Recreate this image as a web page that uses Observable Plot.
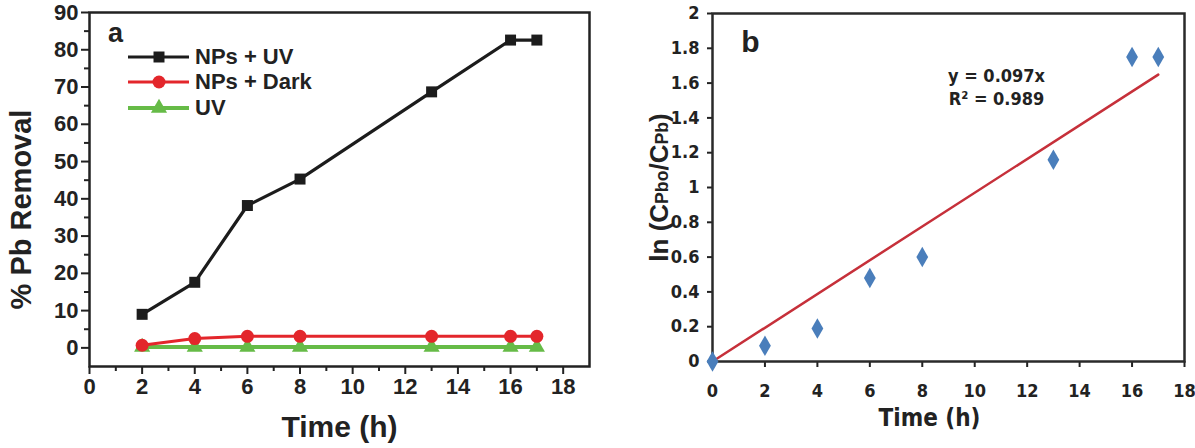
<!DOCTYPE html>
<html><head><meta charset="utf-8">
<script src="https://cdn.jsdelivr.net/npm/d3@7"></script>
<script src="https://cdn.jsdelivr.net/npm/@observablehq/plot@0.6"></script>
<style>
html,body{margin:0;padding:0;background:#fff;}
#wrap{display:flex;width:1195px;height:448px;overflow:hidden;}
.panel{position:relative;}
.legend{position:absolute;left:128px;top:44px;font-family:'Liberation Sans',Arial,sans-serif;font-weight:bold;font-size:22px;color:#222;}
.legend .row{display:flex;align-items:center;height:25.5px;}
.legend svg{display:block;margin-right:6px;}
</style></head><body>
<div id="wrap"><div id="pa" class="panel"></div><div id="pb" class="panel"></div></div>
<script>
// ---------- Panel a data ----------
const timeA = [2, 4, 6, 8, 13, 16, 17];
const npsUV = [9.0, 17.6, 38.2, 45.3, 68.7, 82.6, 82.6];
const npsDark = [0.7, 2.5, 3.1, 3.1, 3.1, 3.1, 3.1];
const uvOnly = [0.2, 0.2, 0.2, 0.2, 0.2, 0.2, 0.2];
const seriesNames = ["NPs + UV", "NPs + Dark", "UV"];
const seriesColors = ["#1c1c1c", "#e3262b", "#66bb47"];
const seriesSymbols = ["square", "circle", "triangle"];
const seriesR = [6.2, 6.5, 6.0];
const seriesWidth = [3.2, 3, 4];
const xTicksA = [0, 2, 4, 6, 8, 10, 12, 14, 16, 18];
const yTicksA = [0, 10, 20, 30, 40, 50, 60, 70, 80, 90];

// ---------- Panel b data ----------
const timeB = [0, 2, 4, 6, 8, 13, 16, 17];
const lnRatio = [0, 0.09, 0.19, 0.48, 0.60, 1.16, 1.75, 1.75];
const slope = 0.097;
const rSquared = 0.989;
const xTicksB = [0, 2, 4, 6, 8, 10, 12, 14, 16, 18];
const yTicksB = [0, 0.2, 0.4, 0.6, 0.8, 1, 1.2, 1.4, 1.6, 1.8, 2];

const fontA = "'Liberation Sans', Arial, sans-serif";
const fontB = "'Liberation Sans Narrow', 'DejaVu Sans Condensed', Lato, sans-serif";

// ---------- build tables ----------
const seriesValues = [npsUV, npsDark, uvOnly];
const rowsA = [];
seriesNames.forEach((s, i) => timeA.forEach((t, j) => rowsA.push({series: s, time: t, value: seriesValues[i][j]})));

const seriesMarks = [];
for (let i = seriesNames.length - 1; i >= 0; i--) {
  const data = rowsA.filter(d => d.series === seriesNames[i]);
  seriesMarks.push(Plot.line(data, {x: "time", y: "value", stroke: seriesColors[i], strokeWidth: seriesWidth[i]}));
  seriesMarks.push(Plot.dot(data, {x: "time", y: "value", symbol: seriesSymbols[i], r: seriesR[i], fill: seriesColors[i]}));
}

const plotA = Plot.plot({
  width: 600, height: 448,
  marginLeft: 89, marginRight: 11, marginTop: 12, marginBottom: 82,
  style: {fontFamily: fontA, fontWeight: "bold", color: "#222", background: "#fff", overflow: "visible"},
  x: {domain: [0, 19]},
  y: {domain: [-5, 90]},
  marks: [
    Plot.axisX({ticks: xTicksA, tickSize: 8, tickPadding: 4, fontSize: 22, fontWeight: "bold", label: null, strokeWidth: 2}),
    Plot.axisX({ticks: d3.range(1, 19, 2), tickSize: 5, text: null, label: null, strokeWidth: 2}),
    Plot.axisY({ticks: yTicksA, tickSize: 8, tickPadding: 3, fontSize: 22, fontWeight: "bold", label: null, strokeWidth: 2}),
    Plot.axisY({ticks: d3.range(5, 90, 10), tickSize: 5, text: null, label: null, strokeWidth: 2}),
    Plot.frame({stroke: "#222", strokeWidth: 2.5}),
    ...seriesMarks,
    Plot.text(["a"], {frameAnchor: "top-left", dx: 26, dy: 21, fontSize: 27, fontWeight: "bold", fill: "#222", lineAnchor: "middle", textAnchor: "middle"}),
    Plot.text(["Time (h)"], {frameAnchor: "bottom", dy: 70, lineAnchor: "bottom", fontSize: 30, fontWeight: "bold", fill: "#222"}),
    Plot.text(["% Pb Removal"], {frameAnchor: "left", dx: -68, dy: 20, rotate: -90, lineAnchor: "middle", textAnchor: "middle", fontSize: 29, fontWeight: "bold", fill: "#222"})
  ]
});
document.getElementById("pa").appendChild(plotA);

// legend for panel a
const legend = d3.select("#pa").append("div").attr("class", "legend");
seriesNames.forEach((s, i) => {
  const row = legend.append("div").attr("class", "row");
  const svg = row.append("svg").attr("width", 61).attr("height", 20);
  svg.append("line").attr("x1", 0).attr("x2", 61).attr("y1", 10).attr("y2", 10)
    .attr("stroke", seriesColors[i]).attr("stroke-width", seriesWidth[i]);
  const sym = {square: d3.symbolSquare, circle: d3.symbolCircle, triangle: d3.symbolTriangle}[seriesSymbols[i]];
  svg.append("path").attr("transform", "translate(31,10)")
    .attr("d", d3.symbol(sym, Math.PI * seriesR[i] * seriesR[i])())
    .attr("fill", seriesColors[i]);
  row.append("span").text(s);
});

// ---------- Panel b ----------
const rowsB = timeB.map((t, i) => ({time: t, value: lnRatio[i]}));
const fitRows = [d3.min(timeB), d3.max(timeB)].map(t => ({time: t, fit: slope * t}));
const yLabelB = "ln (CPbo/CPb)";

const plotB = Plot.plot({
  width: 595, height: 448,
  marginLeft: 112, marginRight: 11, marginTop: 13, marginBottom: 87,
  style: {fontFamily: fontB, fontWeight: "bold", color: "#222", background: "#fff", overflow: "visible"},
  x: {domain: [0, 18]},
  y: {domain: [0, 2]},
  marks: [
    Plot.axisX({ticks: xTicksB, tickSize: 6, tickPadding: 17, fontSize: 18, fontWeight: "bold", label: null, strokeWidth: 2, tickFormat: d => String(d)}),
    Plot.axisY({ticks: yTicksB, tickSize: 5, tickPadding: 8, fontSize: 18, fontWeight: "bold", label: null, strokeWidth: 2, tickFormat: d => String(+d.toFixed(1))}),
    Plot.frame({stroke: "#2a2a2a", strokeWidth: 2.5}),
    Plot.line(fitRows, {x: "time", y: "fit", stroke: "#c6303a", strokeWidth: 2.5}),
    Plot.dot(rowsB, {x: "time", y: "value", symbol: "diamond", r: 6.2, fill: "#4a7ebb"}),
    Plot.text([`y = ${slope}x`], {frameAnchor: "top-left", dx: 284, dy: 63, lineAnchor: "middle", textAnchor: "middle", fontSize: 18, fontWeight: "bold", fill: "#222", fontFamily: fontB}),
    Plot.text([`R² = ${rSquared}`], {frameAnchor: "top-left", dx: 284, dy: 86, lineAnchor: "middle", textAnchor: "middle", fontSize: 18, fontWeight: "bold", fill: "#222", fontFamily: fontB}),
    Plot.text(["b"], {frameAnchor: "top-left", dx: 38, dy: 29, lineAnchor: "middle", textAnchor: "middle", fontSize: 30, fontWeight: "bold", fill: "#222", fontFamily: fontA}),
    Plot.text(["Time (h)"], {frameAnchor: "bottom", dx: -19, dy: 64, lineAnchor: "bottom", fontSize: 24, fontWeight: "bold", fill: "#222", fontFamily: fontB}),
    Plot.text([yLabelB], {frameAnchor: "left", dx: -53, dy: 0, rotate: -90, lineAnchor: "middle", textAnchor: "middle", fontSize: 26, fontWeight: "bold", fill: "#222", fontFamily: fontA})
  ]
});
document.getElementById("pb").appendChild(plotB);

// subscript-style small letters in the y label of panel b
d3.select(plotB).selectAll("text").filter(function() { return this.textContent === yLabelB; })
  .each(function() {
    const t = d3.select(this);
    t.text(null);
    t.append("tspan").text("ln (C");
    t.append("tspan").attr("font-size", "0.68em").text("Pbo");
    t.append("tspan").text("/C");
    t.append("tspan").attr("font-size", "0.68em").text("Pb");
    t.append("tspan").text(")");
  });
</script>
</body></html>
